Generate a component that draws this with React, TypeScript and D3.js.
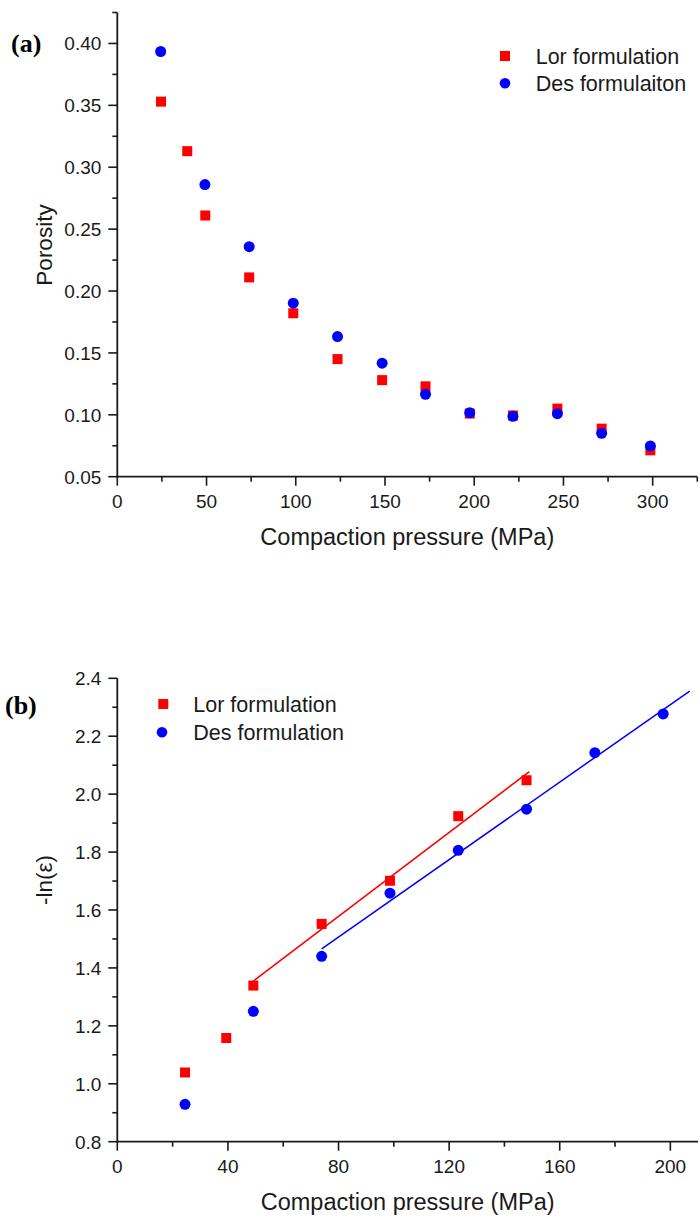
import React from "react";
import * as d3 from "d3";

// ---------- Panel (a): porosity vs compaction pressure ----------
const lorXA = [24.5, 39.2, 49.3, 73.9, 98.6, 123.4, 148.4, 172.7, 197.5, 221.7, 246.6, 271.4, 298.7];
const lorYA = [0.353, 0.313, 0.261, 0.211, 0.182, 0.145, 0.128, 0.123, 0.101, 0.0995, 0.105, 0.0888, 0.0713];
const desXA = [24.3, 49.1, 73.9, 98.6, 123.4, 148.4, 172.7, 197.5, 221.7, 246.6, 271.4, 298.7];
const desYA = [0.3935, 0.286, 0.2358, 0.1902, 0.1632, 0.1417, 0.1166, 0.1017, 0.0988, 0.1009, 0.085, 0.0748];
const xTicksA = [0, 50, 100, 150, 200, 250, 300];
const xMinorA = [25, 75, 125, 175, 225, 275, 325];
const yTicksA = [0.05, 0.1, 0.15, 0.2, 0.25, 0.3, 0.35, 0.4];
const yMinorA = [0.075, 0.125, 0.175, 0.225, 0.275, 0.325, 0.375, 0.425];

// ---------- Panel (b): -ln(porosity) vs compaction pressure ----------
const lorXB = [24.5, 39.4, 49.2, 73.9, 98.6, 123.3, 148];
const lorYB = [1.039, 1.158, 1.339, 1.552, 1.701, 1.924, 2.048];
const desXB = [24.5, 49.2, 73.9, 98.6, 123.3, 148, 172.7, 197.4];
const desYB = [0.929, 1.25, 1.44, 1.658, 1.806, 1.948, 2.143, 2.277];
const xTicksB = [0, 40, 80, 120, 160, 200];
const xMinorB = [20, 60, 100, 140, 180];
const yTicksB = [0.8, 1.0, 1.2, 1.4, 1.6, 1.8, 2.0, 2.2, 2.4];
const yMinorB = [0.9, 1.1, 1.3, 1.5, 1.7, 1.9, 2.1, 2.3];
// fitted (linear) portions: indices of points used and x-extent of line
const lorFitIdx = [2, 3, 4, 5, 6];
const lorFitRange = [49.2, 149];
const desFitIdx = [2, 3, 4, 5, 6, 7];
const desFitRange = [73.9, 207];

const legendA = ["Lor formulation", "Des formulaiton"];
const legendB = ["Lor formulation", "Des formulation"];

const RED = "#ff0000";
const BLUE = "#0000ff";
const FONT = "'Liberation Sans', Arial, sans-serif";

function fit(xs: number[], ys: number[], idx: number[]) {
  const px = idx.map((i) => xs[i]);
  const py = idx.map((i) => ys[i]);
  const mx = d3.mean(px)!;
  const my = d3.mean(py)!;
  let sxy = 0, sxx = 0;
  px.forEach((x, i) => {
    sxy += (x - mx) * (py[i] - my);
    sxx += (x - mx) * (x - mx);
  });
  const b = sxy / sxx;
  return (x: number) => my + b * (x - mx);
}

type AxesProps = {
  x: d3.ScaleLinear<number, number>;
  y: d3.ScaleLinear<number, number>;
  xTicks: number[];
  xMinor: number[];
  yTicks: number[];
  yMinor: number[];
  yFmt: (v: number) => string;
  xTitle: string;
  yTitle: string;
  yTitleY: number;
};

function Axes({ x, y, xTicks, xMinor, yTicks, yMinor, yFmt, xTitle, yTitle, yTitleY }: AxesProps) {
  const [x0, x1] = x.range();
  const [y0, y1] = y.range();
  const ax = x0;
  const ay = y0;
  return (
    <g fontFamily={FONT} fill="#1a1a1a">
      <line x1={ax} x2={ax} y1={ay + 0.9} y2={y1} stroke="#1a1a1a" strokeWidth={1.8} />
      <line x1={ax - 0.9} x2={x1} y1={ay} y2={ay} stroke="#1a1a1a" strokeWidth={1.8} />
      {yTicks.map((t) => (
        <g key={"yt" + t}>
          <line x1={ax - 9} x2={ax} y1={y(t)} y2={y(t)} stroke="#1a1a1a" strokeWidth={1.6} />
          <text x={ax - 16} y={y(t)} dy="0.36em" textAnchor="end" fontSize={19}>
            {yFmt(t)}
          </text>
        </g>
      ))}
      {yMinor.map((t) => (
        <line key={"ym" + t} x1={ax - 5} x2={ax} y1={y(t)} y2={y(t)} stroke="#1a1a1a" strokeWidth={1.6} />
      ))}
      {xTicks.map((t) => (
        <g key={"xt" + t}>
          <line x1={x(t)} x2={x(t)} y1={ay} y2={ay + 9} stroke="#1a1a1a" strokeWidth={1.6} />
          <text x={x(t)} y={ay + 31.5} textAnchor="middle" fontSize={19}>
            {String(t)}
          </text>
        </g>
      ))}
      {xMinor.map((t) => (
        <line key={"xm" + t} x1={x(t)} x2={x(t)} y1={ay} y2={ay + 5} stroke="#1a1a1a" strokeWidth={1.6} />
      ))}
      <text x={(x0 + x1) / 2} y={ay + 68.5} textAnchor="middle" fontSize={23.5}>
        {xTitle}
      </text>
      <text
        transform={`translate(51.7,${yTitleY}) rotate(-90)`}
        textAnchor="middle"
        fontSize={22.5}
      >
        {yTitle}
      </text>
    </g>
  );
}

function Square({ cx, cy, s = 10, fill }: { cx: number; cy: number; s?: number; fill: string }) {
  return <rect x={cx - s / 2} y={cy - s / 2} width={s} height={s} fill={fill} />;
}

export default function App() {
  const xA = d3.scaleLinear().domain([0, 325]).range([117.3, 697.3]);
  const yA = d3.scaleLinear().domain([0.05, 0.425]).range([476.7, 12.5]);
  const xB = d3.scaleLinear().domain([0, 210]).range([117.3, 698]);
  const yB = d3.scaleLinear().domain([0.8, 2.4]).range([1141.7, 678.3]);

  const lorFit = fit(lorXB, lorYB, lorFitIdx);
  const desFit = fit(desXB, desYB, desFitIdx);

  const lorLine = d3.line<number>().x((d) => xB(d)).y((d) => yB(lorFit(d)))(lorFitRange) || "";
  const desLine = d3.line<number>().x((d) => xB(d)).y((d) => yB(desFit(d)))(desFitRange) || "";

  return (
    <svg
      width={699}
      height={1227}
      style={{ position: "absolute", left: 0, top: 0, background: "#fff" }}
    >
      <rect width={699} height={1227} fill="#fff" />
      {/* Panel (a) */}
      <text x={11} y={52} fontFamily="'Liberation Serif', 'Times New Roman', serif" fontWeight="bold" fontSize={26}>
        (a)
      </text>
      <Axes
        x={xA}
        y={yA}
        xTicks={xTicksA}
        xMinor={xMinorA}
        yTicks={yTicksA}
        yMinor={yMinorA}
        yFmt={(v) => v.toFixed(2)}
        xTitle="Compaction pressure (MPa)"
        yTitle="Porosity"
        yTitleY={245}
      />
      {lorXA.map((x, i) => (
        <Square key={"la" + i} cx={xA(x)} cy={yA(lorYA[i])} fill={RED} />
      ))}
      {desXA.map((x, i) => (
        <circle key={"da" + i} cx={xA(x)} cy={yA(desYA[i])} r={5.5} fill={BLUE} />
      ))}
      <g fontFamily={FONT} fontSize={21.5} fill="#1a1a1a">
        <Square cx={505} cy={56} fill={RED} />
        <text x={535.7} y={63.5}>{legendA[0]}</text>
        <circle cx={505} cy={83.3} r={5.3} fill={BLUE} />
        <text x={535.7} y={90.5}>{legendA[1]}</text>
      </g>

      {/* Panel (b) */}
      <text x={5} y={714} fontFamily="'Liberation Serif', 'Times New Roman', serif" fontWeight="bold" fontSize={26}>
        (b)
      </text>
      <Axes
        x={xB}
        y={yB}
        xTicks={xTicksB}
        xMinor={xMinorB}
        yTicks={yTicksB}
        yMinor={yMinorB}
        yFmt={(v) => v.toFixed(1)}
        xTitle="Compaction pressure (MPa)"
        yTitle="-ln(ε)"
        yTitleY={880}
      />
      <path d={lorLine} stroke={RED} strokeWidth={1.5} fill="none" />
      <path d={desLine} stroke={BLUE} strokeWidth={1.5} fill="none" />
      {lorXB.map((x, i) => (
        <Square key={"lb" + i} cx={xB(x)} cy={yB(lorYB[i])} fill={RED} />
      ))}
      {desXB.map((x, i) => (
        <circle key={"db" + i} cx={xB(x)} cy={yB(desYB[i])} r={5.5} fill={BLUE} />
      ))}
      <g fontFamily={FONT} fontSize={21.5} fill="#1a1a1a">
        <Square cx={163.3} cy={704} fill={RED} />
        <text x={193.3} y={711.7}>{legendB[0]}</text>
        <circle cx={162} cy={732.3} r={5.3} fill={BLUE} />
        <text x={193.3} y={740}>{legendB[1]}</text>
      </g>
    </svg>
  );
}
